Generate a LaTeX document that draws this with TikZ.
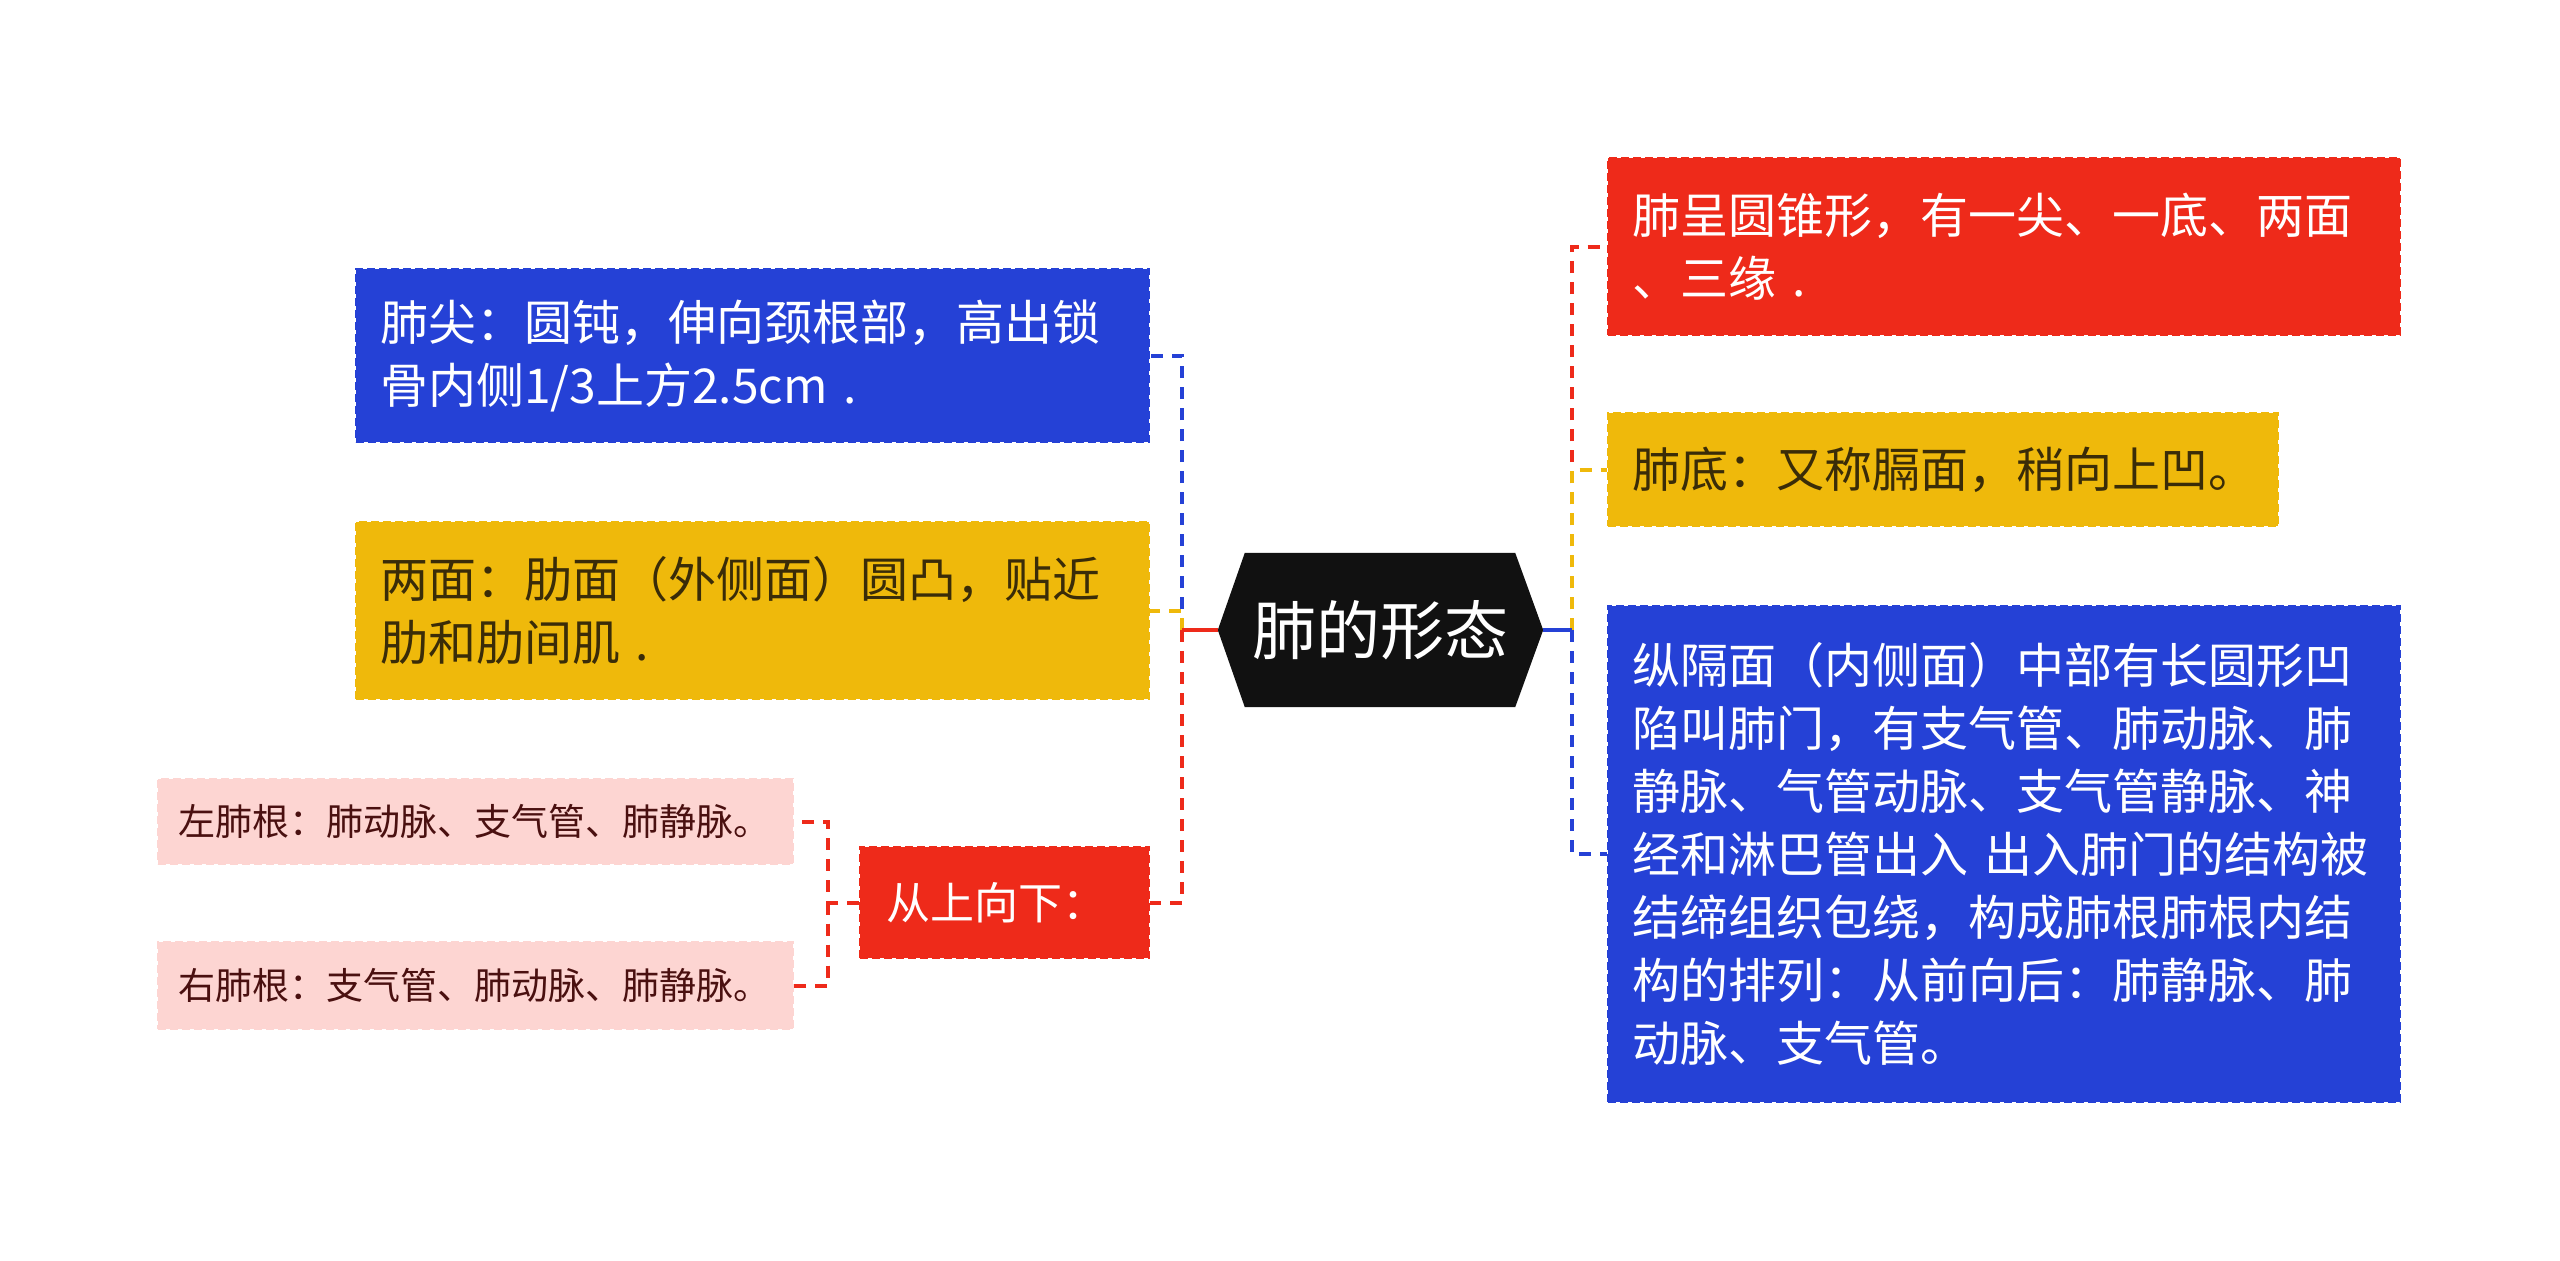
\documentclass[tikz,border=0pt]{standalone}
\usepackage{fontspec}
\setmainfont{Noto Sans CJK SC}
\definecolor{mred}{HTML}{EE2A1A}
\definecolor{mblue}{HTML}{2541D6}
\definecolor{myel}{HTML}{EFB90B}
\definecolor{mpink}{HTML}{FDD5D2}
\definecolor{mdark}{HTML}{111111}
\definecolor{ytext}{HTML}{3A2C08}
\definecolor{ptext}{HTML}{4A1010}
\pgfdeclarelayer{bg}
\pgfsetlayers{bg,main}
\tikzset{
  box/.style={rectangle, inner xsep=24pt, inner ysep=0pt, align=left,
    line width=2pt, dash pattern=on 8pt off 4pt,
    font=\fontsize{48}{63}\selectfont},
  pinkbox/.style={box, inner xsep=20pt, fill=mpink, draw=mpink, text=ptext,
    font=\fontsize{37}{44}\selectfont},
  solidconn/.style={line width=4pt},
  dconn/.style={line width=4pt, dash pattern=on 12pt off 9pt},
}
\begin{document}
\begin{tikzpicture}[x=1pt,y=-1pt]
\path[use as bounding box] (0,0) rectangle (2560,1261);

% center
\node[minimum width=325pt, minimum height=154pt, inner sep=0pt, text=white,
  font=\fontsize{64}{70}\selectfont] (c) at (1380.5,630) {肺的形态};
\begin{pgfonlayer}{bg}
\fill[white] (0,0) rectangle (2560,1261);
\fill[mdark] (c.west) -- ([xshift=27pt]c.north west) -- ([xshift=-28pt]c.north east)
  -- (c.east) -- ([xshift=-28pt]c.south east) -- ([xshift=27pt]c.south west) -- cycle;
\end{pgfonlayer}

% left side
\node[box, fill=mblue, draw=mblue, text=white, minimum width=793pt, minimum height=173pt,
  text width=745pt] (n1) at (752.5,355.5) {肺尖：圆钝，伸向颈根部，高出锁\\骨内侧1/3上方2.5cm .};
\node[box, fill=myel, draw=myel, text=ytext, minimum width=793pt, minimum height=177pt,
  text width=745pt] (n2) at (752.5,610.5) {两面：肋面（外侧面）圆凸，贴近\\肋和肋间肌 .};
\node[box, inner xsep=26pt, fill=mred, draw=mred, text=white, minimum width=289pt, minimum height=111pt,
  text width=237pt, font=\fontsize{44}{52}\selectfont] (n3) at (1004.5,902.5) {从上向下：};
\node[pinkbox, minimum width=635pt, minimum height=85pt, text width=595pt] (n4) at (475.5,821.5)
  {左肺根：肺动脉、支气管、肺静脉。};
\node[pinkbox, minimum width=635pt, minimum height=87pt, text width=595pt] (n5) at (475.5,985.5)
  {右肺根：支气管、肺动脉、肺静脉。};

% right side
\node[box, fill=mred, draw=mred, text=white, minimum width=792pt, minimum height=177pt,
  text width=744pt] (r1) at (2004,246.5) {肺呈圆锥形，有一尖、一底、两面\\、三缘 .};
\node[box, fill=myel, draw=myel, text=ytext, minimum width=670pt, minimum height=113pt,
  text width=622pt] (r2) at (1943,469.5) {肺底：又称膈面，稍向上凹。};
\node[box, fill=mblue, draw=mblue, text=white, minimum width=792pt, minimum height=496pt,
  text width=744pt] (r3) at (2004,854) {纵隔面（内侧面）中部有长圆形凹\\陷叫肺门，有支气管、肺动脉、肺\\静脉、气管动脉、支气管静脉、神\\经和淋巴管出入 出入肺门的结构被\\结缔组织包绕，构成肺根肺根内结\\构的排列：从前向后：肺静脉、肺\\动脉、支气管。};

% bus coordinates
\coordinate (lb) at (1182,630);
\coordinate (rb) at (1572,630);
\coordinate (sb) at (828,902.5);

% left connectors
\draw[dconn, mred] (lb) |- (n3.east);
\draw[dconn, mblue] (lb) |- (n1.east);
\draw[dconn, myel] (lb) |- (n2.east);
\draw[solidconn, mred] (c.west) -- (lb);

% sub connectors
\draw[dconn, mred] (n3.west) -- (sb) |- (n4.east);
\draw[dconn, mred] (sb) |- (n5.east);

% right connectors
\draw[dconn, mred] (rb) |- (r1.west);
\draw[dconn, myel] (rb) |- (r2.west);
\draw[dconn, mblue] (rb) |- (r3.west);
\draw[solidconn, mblue] (c.east) -- (rb);
\end{tikzpicture}
\end{document}
